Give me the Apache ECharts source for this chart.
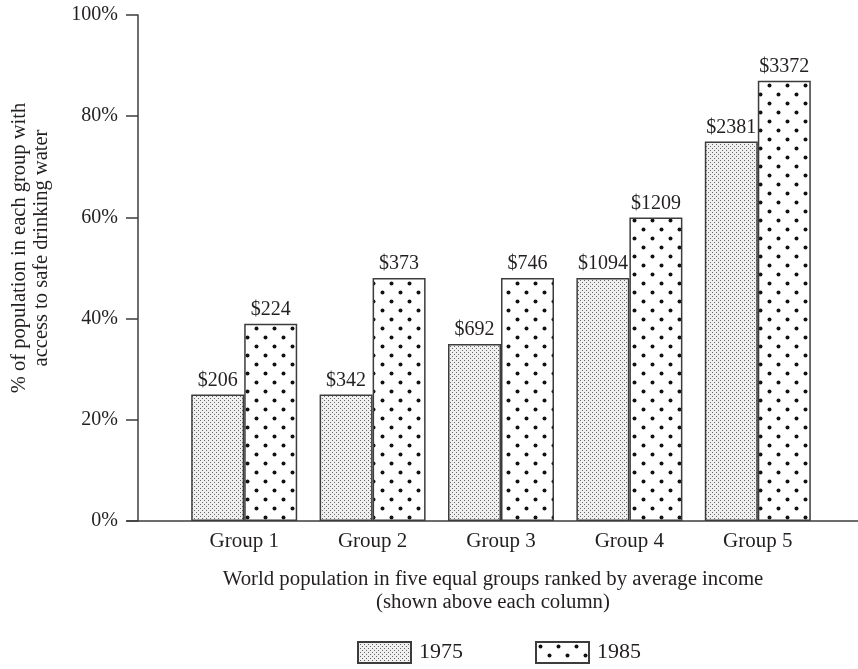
<!DOCTYPE html>
<html>
<head>
<meta charset="utf-8">
<script src="https://cdn.jsdelivr.net/npm/echarts@6/dist/echarts.min.js"></script>
<style>
html,body{margin:0;padding:0;background:#fff;}
#chart{width:858px;height:669px;}
</style>
</head>
<body>
<div id="chart"></div>
<script>
var categories = ['Group 1', 'Group 2', 'Group 3', 'Group 4', 'Group 5'];
var values1975 = [25, 25, 35, 48, 75];
var values1985 = [39, 48, 48, 60, 87];
var income1975 = ['$206', '$342', '$692', '$1094', '$2381'];
var income1985 = ['$224', '$373', '$746', '$1209', '$3372'];
var yTicks = [0, 20, 40, 60, 80, 100];

var FONT = '"Liberation Serif", "Times New Roman", serif';
var INK = '#231f20';
var LINE = '#3c3c3c';

function finePattern() {
  var c = document.createElement('canvas');
  c.width = 4; c.height = 4;
  var g = c.getContext('2d');
  g.fillStyle = '#f0f0f0';
  g.fillRect(0, 0, 4, 4);
  g.fillStyle = '#666666';
  g.fillRect(0, 0, 1, 1);
  g.fillRect(2, 2, 1, 1);
  return c;
}
function dotPattern() {
  var c = document.createElement('canvas');
  c.width = 18; c.height = 18;
  var g = c.getContext('2d');
  g.fillStyle = '#ffffff';
  g.fillRect(0, 0, 18, 18);
  g.fillStyle = '#111111';
  g.beginPath(); g.arc(4.5, 4.5, 2.0, 0, Math.PI * 2); g.fill();
  g.beginPath(); g.arc(13.5, 13.5, 2.0, 0, Math.PI * 2); g.fill();
  return c;
}

var chart = echarts.init(document.getElementById('chart'), null, {renderer: 'canvas'});

function labelFor(arr) {
  return {
    show: true, position: 'top', distance: 4,
    fontFamily: FONT, fontSize: 20, color: INK,
    formatter: function (p) { return arr[p.dataIndex]; }
  };
}

var option = {
  animation: false,
  backgroundColor: '#ffffff',
  textStyle: {fontFamily: FONT},
  legend: {
    left: 352, top: 636,
    itemWidth: 53, itemHeight: 21, itemGap: 72,
    icon: 'rect',
    textStyle: {fontFamily: FONT, fontSize: 22, color: INK, padding: [0, 0, 0, 3]},
    data: ['1975', '1985']
  },
  grid: [
    {left: 180, right: 36, top: 15, bottom: 148, containLabel: false},
    {left: 127, right: 0, top: 15, bottom: 148, containLabel: false}
  ],
  xAxis: [
    {
      type: 'category', gridIndex: 0, data: categories,
      axisLine: {show: false}, axisTick: {show: false},
      axisLabel: {margin: 10, fontFamily: FONT, fontSize: 21, color: INK},
      name: 'World population in five equal groups ranked by average income\n(shown above each column)',
      nameLocation: 'middle', nameGap: 47,
      nameTextStyle: {fontFamily: FONT, fontSize: 20.8, color: INK, lineHeight: 23, padding: [0, 16, 0, 0]}
    },
    {
      type: 'value', gridIndex: 1, min: 0, max: 1,
      axisLine: {show: true, lineStyle: {color: LINE, width: 1.5}},
      axisTick: {show: false}, axisLabel: {show: false}, splitLine: {show: false}
    }
  ],
  yAxis: [
    {
      type: 'value', gridIndex: 0, min: yTicks[0], max: yTicks[yTicks.length - 1], interval: 20,
      offset: 42,
      axisLine: {show: true, lineStyle: {color: LINE, width: 1.5}},
      axisTick: {show: true, inside: false, length: 12, lineStyle: {color: LINE, width: 1.5}},
      axisLabel: {margin: 20, fontFamily: FONT, fontSize: 20, color: INK, formatter: '{value}%'},
      splitLine: {show: false},
      name: '% of population in each group with\naccess to safe drinking water',
      nameLocation: 'middle', nameGap: 85, nameRotate: 90,
      nameTextStyle: {fontFamily: FONT, fontSize: 20.5, color: INK, lineHeight: 22, padding: [0, 0, 0, 40]}
    },
    {type: 'value', gridIndex: 1, min: 0, max: 1, show: false}
  ],
  series: [
    {
      name: '1975', type: 'bar', xAxisIndex: 0, yAxisIndex: 0,
      data: values1975, barWidth: 53, barGap: '0%',
      itemStyle: {color: {image: finePattern(), repeat: 'repeat'}, borderColor: LINE, borderWidth: 1.5},
      label: labelFor(income1975)
    },
    {
      name: '1985', type: 'bar', xAxisIndex: 0, yAxisIndex: 0,
      data: values1985, barWidth: 53, barGap: '0%',
      itemStyle: {color: {image: dotPattern(), repeat: 'repeat'}, borderColor: LINE, borderWidth: 1.5},
      label: labelFor(income1985)
    }
  ]
};
chart.setOption(option);
</script>
</body>
</html>
